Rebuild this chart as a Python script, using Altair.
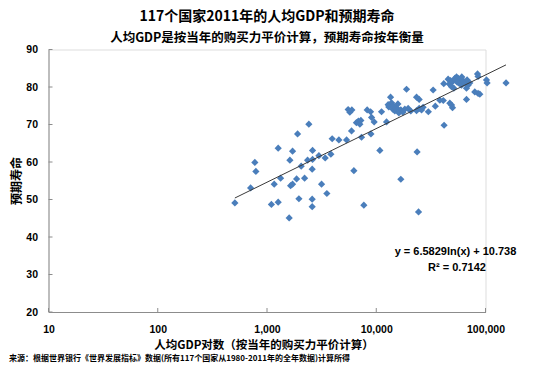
import altair as alt
import pandas as pd

# GDP per capita (PPP, current intl $) and life expectancy
gdp = [508, 708, 774, 791, 1266, 1097, 1266, 1164, 1332, 1596,
       1620, 1714, 1644, 1714, 1866, 1959, 1905, 2056, 2208, 2416,
       2352, 2612, 2592, 2612, 2592, 2592, 2985, 3158, 3409, 3532,
       3842, 3950, 4550, 5350, 6240, 7700, 16790, 24380, 10790, 23660,
       41780, 5530, 5730, 5980, 5940, 6580, 6860, 7080, 7230, 7330,
       8260, 8870, 9060, 9570, 8940, 11180, 12420, 13520, 12850, 13800,
       13030, 14190, 14790, 15450, 16110, 16790, 17510, 18270, 19590, 18930,
       23380, 24710, 23380, 24710, 25970, 26860, 29980, 33170, 34730, 38190,
       41100, 41500, 45500, 47860, 46480, 49890, 52360, 54330, 56120, 58210,
       57330, 60260, 62360, 64630, 67860, 69310, 66990, 51290, 48870, 48870,
       49890, 66990, 79800, 85510, 88720, 84530, 85510, 102100, 103400, 154200,
       47150, 14490, 15780, 20700, 55080, 60670, 71780]
life = [49.1, 53.1, 59.9, 57.5, 63.7, 48.7, 49.3, 54.1, 55.7, 45.1,
        60.5, 62.9, 53.7, 54.1, 55.5, 50.2, 67.5, 58.9, 55.7, 70.1,
        60.5, 63.1, 58.1, 60.7, 50.1, 48.1, 61.7, 54.1, 61.1, 51.6,
        62.1, 66.2, 65.9, 65.9, 57.7, 48.5, 55.4, 46.7, 63.1, 62.7,
        69.8, 74.0, 73.3, 73.9, 68.3, 70.5, 70.9, 70.1, 71.1, 66.6,
        73.9, 73.4, 71.9, 70.7, 67.5, 73.4, 70.7, 77.3, 75.3, 75.8,
        74.7, 74.1, 73.6, 74.4, 73.1, 73.9, 73.3, 74.1, 74.3, 79.4,
        77.3, 76.7, 73.7, 74.3, 73.9, 74.6, 73.4, 79.2, 74.9, 76.5,
        76.4, 80.9, 82.1, 81.7, 80.8, 81.4, 82.3, 82.7, 82.3, 81.9,
        81.0, 80.5, 81.7, 81.1, 81.9, 80.5, 79.7, 79.7, 80.1, 75.2,
        74.5, 76.7, 78.7, 78.3, 78.1, 83.5, 82.8, 81.9, 81.1, 81.1,
        75.7, 74.9, 75.5, 73.6, 81.3, 82.7, 81.1]

# trendline end points as drawn
trend_gdp = [508, 154000]
trend_life = [50.4, 85.9]

x_ticks = [10, 100, 1000, 10000, 100000]
y_ticks = [20, 30, 40, 50, 60, 70, 80, 90]

title_text = "117个国家2011年的人均GDP和预期寿命"
subtitle_text = "人均GDP是按当年的购买力平价计算，预期寿命按年衡量"
x_title = "人均GDP对数（按当年的购买力平价计算）"
y_title = "预期寿命"
eq_text = "y = 6.5829ln(x) + 10.738"
r2_text = "R² = 0.7142"
source_text = "来源：根据世界银行《世界发展指标》数据(所有117个国家从1980-2011年的全年数据)计算所得"

FONT = "Noto Sans CJK SC"
NUMFONT = "Liberation Sans"
W, H = 437, 262.5

pts = pd.DataFrame({"gdp": gdp, "life": life})
trend = pd.DataFrame({"gdp": trend_gdp, "life": trend_life})
yt = pd.DataFrame({"v": y_ticks})
xt = pd.DataFrame({"v": x_ticks})

xscale = alt.Scale(type="log", domain=[10, 100000])
yscale = alt.Scale(domain=[20, 90])

xaxis = alt.Axis(values=x_ticks, format=",", title=x_title, tickSize=0,
                 labelPadding=12, labelFont=NUMFONT, labelFontSize=10.5,
                 labelFontWeight="bold", labelColor="#000000",
                 labelOverlap=False,
                 titleFont=FONT, titleFontSize=11.5, titleFontWeight="bold",
                 titleColor="#000000", titleX=215, titleY=33.5,
                 titleBaseline="middle", domainColor="#8c8c8c", grid=False,
                 labelFlush=False)
yaxis = alt.Axis(values=y_ticks, title=y_title, tickSize=0, labelPadding=11,
                 labelFont=NUMFONT, labelFontSize=10.5, labelFontWeight="bold",
                 labelColor="#000000", labelOverlap=False,
                 titleFont=FONT, titleFontSize=12,
                 titleFontWeight="bold", titleColor="#000000", titleX=-32,
                 titleY=131, titleBaseline="middle", titleAngle=270,
                 domainColor="#8c8c8c", grid=False)

points = alt.Chart(pts).mark_point(shape="diamond", filled=True, size=52,
                                   color="#4A7EBB", opacity=1).encode(
    x=alt.X("gdp:Q", scale=xscale, axis=xaxis),
    y=alt.Y("life:Q", scale=yscale, axis=yaxis),
)

line = alt.Chart(trend).mark_line(color="#3a3a3a", strokeWidth=1).encode(
    x=alt.X("gdp:Q", scale=xscale, axis=xaxis),
    y=alt.Y("life:Q", scale=yscale, axis=yaxis),
)

ytick_marks = alt.Chart(yt).mark_rule(color="#8c8c8c", strokeWidth=1).encode(
    y=alt.Y("v:Q", scale=yscale, axis=yaxis), x=alt.value(0), x2=alt.value(4))
xtick_marks = alt.Chart(xt).mark_rule(color="#8c8c8c", strokeWidth=1).encode(
    x=alt.X("v:Q", scale=xscale, axis=xaxis), y=alt.value(H - 4), y2=alt.value(H))

eq = alt.Chart(pd.DataFrame({"t": [eq_text]})).mark_text(
    font=NUMFONT, fontSize=11, fontWeight="bold", color="#000000",
    align="center", baseline="middle").encode(
    text="t:N", x=alt.value(407), y=alt.value(202.5))
r2 = alt.Chart(pd.DataFrame({"t": [r2_text]})).mark_text(
    font=NUMFONT, fontSize=11, fontWeight="bold", color="#000000",
    align="center", baseline="middle").encode(
    text="t:N", x=alt.value(408.5), y=alt.value(218))
src = alt.Chart(pd.DataFrame({"t": [source_text]})).mark_text(
    font=FONT, fontSize=8, fontWeight="bold", color="#000000",
    align="left", baseline="middle").encode(
    text="t:N", x=alt.value(-39.5), y=alt.value(309))

chart = alt.layer(points, line, ytick_marks, xtick_marks, eq, r2, src).properties(
    width=W, height=H,
    title=alt.Title(text=title_text, subtitle=subtitle_text, anchor="middle",
                    font=FONT, fontSize=14, fontWeight="bold", color="#000000",
                    subtitleFont=FONT, subtitleFontSize=12.5,
                    subtitleFontWeight="bold", subtitleColor="#000000",
                    subtitlePadding=8, offset=0),
    autosize=alt.AutoSizeParams(type="none"),
    padding={"left": 40.5, "top": 41.5, "right": 56.5, "bottom": 51},
).configure_view(stroke=None).configure(background="#ffffff")

chart.save("out.html", embed_options={"renderer": "svg", "actions": False})
